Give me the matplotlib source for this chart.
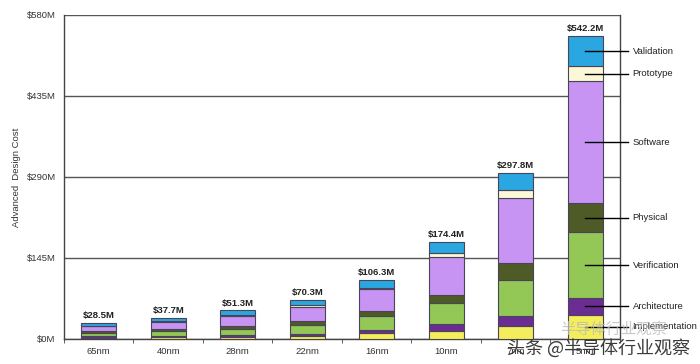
import matplotlib.pyplot as plt
import numpy as np

nodes = ["65nm", "40nm", "28nm", "22nm", "16nm", "10nm", "7nm", "5nm"]
totals = [28.5, 37.7, 51.3, 70.3, 106.3, 174.4, 297.8, 542.2]

# cost breakdown per node, bottom to top (in $M)
implementation = [2.5, 3.0, 4.0, 5.5, 10.0, 14.8, 23.8, 43.0]
architecture = [2.0, 2.5, 3.0, 4.0, 5.8, 11.4, 17.9, 30.4]
verification = [6.5, 8.5, 11.5, 16.0, 24.8, 37.4, 63.9, 118.0]
physical = [3.0, 4.0, 5.5, 7.0, 8.9, 14.8, 29.9, 52.0]
software = [8.5, 12.0, 17.0, 24.5, 39.6, 68.1, 117.5, 217.8]
prototype = [1.5, 1.7, 2.3, 3.3, 2.5, 7.8, 13.8, 27.0]
validation = [4.5, 6.0, 8.0, 10.0, 14.7, 20.1, 31.0, 54.0]

series = [
    ("Implementation", implementation, "#f4ee5c"),
    ("Architecture", architecture, "#6b2d92"),
    ("Verification", verification, "#93c756"),
    ("Physical", physical, "#4e5b26"),
    ("Software", software, "#c894f4"),
    ("Prototype", prototype, "#fbf8d8"),
    ("Validation", validation, "#2aa7e1"),
]

yticks = [0, 145, 290, 435, 580]
ytick_labels = ["$0M", "$145M", "$290M", "$435M", "$580M"]

plt.rcParams["font.family"] = ["Liberation Sans", "DejaVu Sans"]
fig = plt.figure(figsize=(7, 3.64), dpi=100)
ax = fig.add_axes([0.0914, 0.0687, 0.7943, 0.8901])

x = np.arange(len(nodes))
bottom = np.zeros(len(nodes))
centers = {}
for name, vals, col in series:
    vals = np.array(vals)
    ax.bar(x, vals, 0.5, bottom=bottom, color=col, edgecolor="#4a4458",
           linewidth=0.8, zorder=3)
    centers[name] = bottom[-1] + vals[-1] / 2
    bottom = bottom + vals

for xi, t in zip(x, totals):
    ax.text(xi, t + 5, "$%.1fM" % t, ha="center", va="bottom",
            fontsize=6.8, fontweight="bold", color="#222222")

# labels for the 5nm bar
for name, vals, col in series:
    yc = centers[name]
    ax.plot([x[-1], 7.62], [yc, yc], color="black", lw=1, zorder=4,
            clip_on=False)
    ax.text(7.68, yc, name, ha="left", va="center", fontsize=6.8,
            color="#222222", clip_on=False)

ax.set_xlim(-0.5, 7.5)
ax.set_ylim(0, 580)
ax.set_yticks(yticks)
ax.set_yticklabels(ytick_labels, fontsize=6.8, color="#333333")
ax.set_xticks(x)
ax.set_xticklabels(nodes, fontsize=6.8, color="#333333")
ax.tick_params(axis="x", length=0, pad=6)
ax.tick_params(axis="y", length=0, pad=6)
ax.set_xticks(np.arange(-0.5, 8, 1), minor=True)
ax.tick_params(axis="x", which="minor", length=3, direction="out",
               color="#444444")
ax.grid(axis="y", color="#555555", lw=1, zorder=0)
for s in ["left", "right", "bottom"]:
    ax.spines[s].set_color("#444444")
    ax.spines[s].set_linewidth(1)
ax.spines["top"].set_visible(False)
ax.set_ylabel("Advanced  Design Cost", fontsize=6.8, color="#333333",
              labelpad=4)

cjk = ["Noto Sans CJK SC", "DejaVu Sans"]
fig.text(0.80, 0.096, "半导体行业观察", fontsize=11, color="#bbbbbb",
         alpha=0.8, family=cjk, va="center", zorder=5)
fig.text(0.724, 0.043, "头条 @半导体行业观察", fontsize=13, color="#3a3a3a",
         family=cjk, va="center", zorder=6)

fig.savefig("out.png", dpi=100)
